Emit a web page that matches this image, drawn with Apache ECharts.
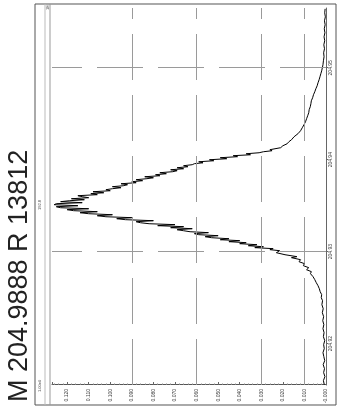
<!DOCTYPE html>
<html><head><meta charset="utf-8">
<script src="https://cdn.jsdelivr.net/npm/echarts@6/dist/echarts.min.js"></script>
<style>
html,body{margin:0;padding:0;background:#fff;overflow:hidden;width:337px;height:410px;}
#wrap{position:absolute;left:0;top:0;width:410px;height:337px;transform-origin:0 0;transform:translateY(410px) rotate(-90deg);}
#chart{width:410px;height:337px;}
</style></head><body>
<div id="wrap"><div id="chart"></div></div>
<script>
const titleText = 'M 204.9888 R 13812';
const bandTexts = ['1.00e0', '192.8', '1E'];
const massValues = [
204.91554,204.91598,204.91641,204.91685,204.91728,204.91772,204.91815,204.91859,204.91902,204.91946,
204.91989,204.92033,204.92076,204.92120,204.92163,204.92207,204.92250,204.92293,204.92337,204.92380,
204.92424,204.92467,204.92500,204.92533,204.92565,204.92598,204.92630,204.92663,204.92696,204.92728,
204.92761,204.92783,204.92804,204.92826,204.92848,204.92870,204.92891,204.92913,204.92935,204.92946,
204.92967,204.92989,204.93011,204.93022,204.93033,204.93044,204.93054,204.93065,204.93076,204.93087,
204.93098,204.93109,204.93120,204.93130,204.93141,204.93152,204.93163,204.93174,204.93185,204.93196,
204.93207,204.93217,204.93228,204.93239,204.93250,204.93261,204.93272,204.93283,204.93294,204.93304,
204.93315,204.93326,204.93337,204.93348,204.93359,204.93370,204.93380,204.93391,204.93402,204.93413,
204.93424,204.93435,204.93446,204.93457,204.93467,204.93478,204.93489,204.93500,204.93511,204.93522,
204.93533,204.93544,204.93554,204.93565,204.93576,204.93587,204.93598,204.93609,204.93620,204.93631,
204.93641,204.93652,204.93663,204.93674,204.93685,204.93696,204.93707,204.93717,204.93728,204.93739,
204.93750,204.93761,204.93772,204.93783,204.93794,204.93804,204.93815,204.93826,204.93837,204.93848,
204.93859,204.93870,204.93881,204.93891,204.93902,204.93913,204.93924,204.93935,204.93946,204.93957,
204.93967,204.93978,204.93989,204.94000,204.94011,204.94022,204.94033,204.94044,204.94054,204.94065,
204.94076,204.94087,204.94098,204.94109,204.94131,204.94152,204.94174,204.94196,204.94217,204.94250,
204.94283,204.94315,204.94348,204.94381,204.94413,204.94446,204.94478,204.94511,204.94544,204.94576,
204.94609,204.94641,204.94674,204.94707,204.94739,204.94772,204.94804,204.94837,204.94870,204.94902,
204.94935,204.94967,204.95000,204.95033,204.95076,204.95120,204.95163,204.95207,204.95250,204.95294,
204.95337,204.95381,204.95424,204.95468,204.95511,204.95554,204.95598,204.95641
];
const intensityValues = [
0.0008,0.0012,0.0005,0.0011,0.0007,0.0013,0.0006,0.0010,0.0014,0.0008,
0.0011,0.0006,0.0012,0.0009,0.0014,0.0010,0.0015,0.0011,0.0017,0.0013,
0.0019,0.0016,0.0022,0.0020,0.0027,0.0031,0.0037,0.0045,0.0052,0.0060,
0.0072,0.0068,0.0090,0.0080,0.0105,0.0100,0.0125,0.0118,0.0160,0.0135,
0.0190,0.0230,0.0215,0.0260,0.0245,0.0330,0.0290,0.0360,0.0320,0.0400,
0.0370,0.0450,0.0400,0.0490,0.0450,0.0530,0.0560,0.0500,0.0590,0.0610,
0.0545,0.0630,0.0660,0.0690,0.0620,0.0720,0.0660,0.0780,0.0700,0.0820,
0.0860,0.0880,0.0800,0.0930,0.0970,0.0900,0.1020,0.1060,0.0990,0.1100,
0.1140,0.1060,0.1170,0.1200,0.1100,0.1230,0.1250,0.1150,0.1260,0.1250,
0.1130,0.1230,0.1190,0.1120,0.1180,0.1100,0.1130,0.1150,0.1060,0.1090,
0.1030,0.1080,0.1000,0.1020,0.0990,0.0950,0.0990,0.0940,0.0920,0.0950,
0.0880,0.0900,0.0850,0.0880,0.0830,0.0800,0.0840,0.0770,0.0790,0.0740,
0.0770,0.0710,0.0690,0.0720,0.0660,0.0690,0.0640,0.0660,0.0620,0.0610,
0.0570,0.0590,0.0520,0.0540,0.0460,0.0490,0.0410,0.0430,0.0350,0.0370,
0.0310,0.0290,0.0250,0.0260,0.0210,0.0200,0.0180,0.0172,0.0160,0.0148,
0.0130,0.0118,0.0110,0.0102,0.0095,0.0090,0.0085,0.0080,0.0078,0.0073,
0.0070,0.0068,0.0062,0.0058,0.0052,0.0047,0.0041,0.0037,0.0032,0.0028,
0.0024,0.0020,0.0017,0.0014,0.0012,0.0009,0.0011,0.0007,0.0010,0.0006,
0.0009,0.0005,0.0008,0.0004,0.0007,0.0003,0.0006,0.0004
];
const massRange = [204.9155, 204.9565];
const intensityRange = [0, 0.127];
const intensityGrid = [0.00648, 0.03148, 0.06296, 0.09444];
const massGrid = [204.92587, 204.94620];

const data = massValues.map((m, i) => [m, intensityValues[i]]);
const gridStyle = {color: '#9a9a9a', width: 1, type: [46, 15]};
const chart = echarts.init(document.getElementById('chart'));
chart.setOption({
  animation: false,
  backgroundColor: '#fff',
  title: {text: titleText, left: 3, top: 1,
    textStyle: {fontSize: 27, fontWeight: 'normal', color: '#222', fontFamily: 'Liberation Sans, Arial, sans-serif'}},
  grid: {left: 25, right: 8, top: 52, bottom: 11, containLabel: false},
  xAxis: {type: 'value', min: massRange[0], max: massRange[1], splitNumber: 4,
    axisLine: {show: true, onZero: false, lineStyle: {color: '#666'}},
    axisTick: {show: true, length: 2, lineStyle: {color: '#666'}},
    axisLabel: {fontSize: 5, color: '#444', margin: 2, showMinLabel: false, showMaxLabel: false,
      formatter: v => v.toFixed(2)},
    splitLine: {show: false}},
  yAxis: {type: 'value', min: intensityRange[0], max: intensityRange[1], interval: 0.01,
    axisLine: {show: true, lineStyle: {color: '#555'}},
    axisTick: {show: true, inside: true, length: 3, lineStyle: {color: '#666'}},
    minorTick: {show: true, splitNumber: 5, length: 1.5, lineStyle: {color: '#888'}},
    axisLabel: {fontSize: 5, color: '#444', margin: 4, showMaxLabel: false,
      formatter: v => (v === 0 ? '-0.000' : v.toFixed(3))},
    splitLine: {show: false}},
  graphic: [
    {type: 'rect', shape: {x: 5, y: 35, width: 401, height: 301}, style: {fill: 'none', stroke: '#555', lineWidth: 1}},
    {type: 'line', shape: {x1: 5, y1: 45, x2: 406, y2: 45}, style: {stroke: '#bbb', lineWidth: 1}},
    {type: 'line', shape: {x1: 5, y1: 50, x2: 406, y2: 50}, style: {stroke: '#999', lineWidth: 1}},
    {type: 'text', x: 18, y: 40, style: {text: bandTexts[0], fontSize: 4, fill: '#444', verticalAlign: 'middle'}},
    {type: 'text', x: 200, y: 40, style: {text: bandTexts[1], fontSize: 4, fill: '#444', verticalAlign: 'middle'}},
    {type: 'text', x: 400, y: 48, style: {text: bandTexts[2], fontSize: 4, fill: '#444', verticalAlign: 'middle'}}
  ],
  series: [{
    type: 'line', data: data, showSymbol: false, symbol: 'none',
    lineStyle: {color: '#000', width: 1},
    markLine: {silent: true, symbol: 'none', label: {show: false}, lineStyle: gridStyle,
      data: intensityGrid.map(v => ({yAxis: v})).concat(massGrid.map(v => ({xAxis: v})))}
  }]
});
</script>
</body></html>
